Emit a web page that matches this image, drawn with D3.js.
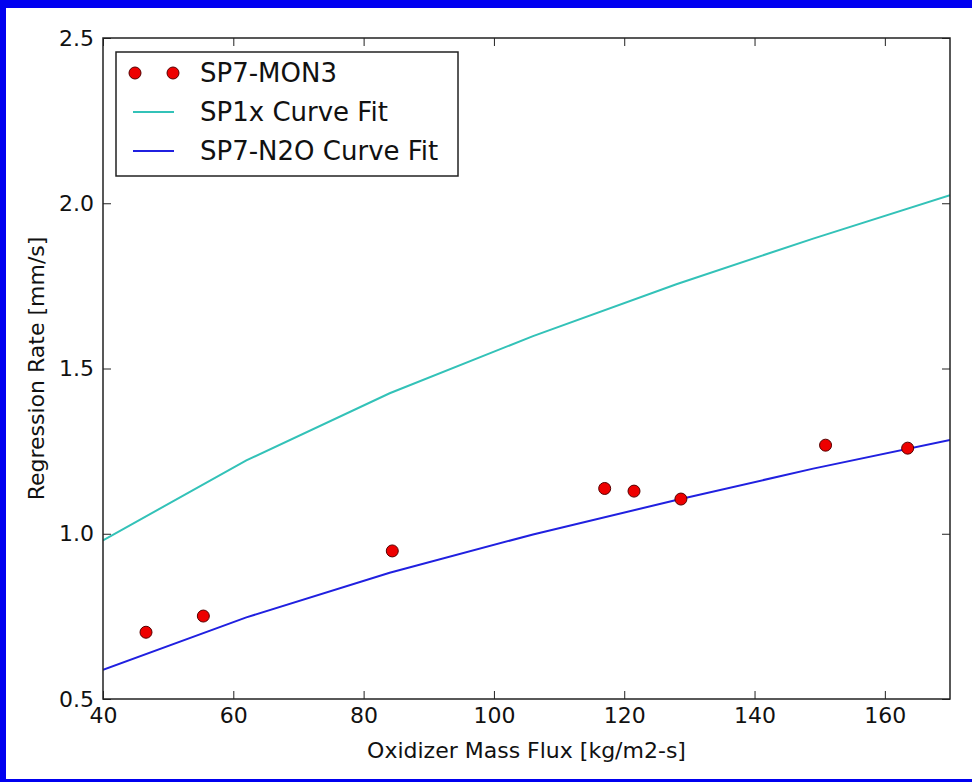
<!DOCTYPE html>
<html>
<head>
<meta charset="utf-8">
<script src="https://cdn.jsdelivr.net/npm/d3@7"></script>
<style>
  body { margin: 0; background: #fff; }
  svg { display: block; }
  text { font-family: "DejaVu Sans", sans-serif; fill: #111; }
</style>
</head>
<body>
<svg id="chart"></svg>
<script>
// measured points, SP7-MON3
const fluxMON3 = [46.6, 55.4, 84.4, 117.0, 121.5, 128.7, 150.9, 163.5]
const rateMON3 = [0.702, 0.751, 0.948, 1.137, 1.129, 1.105, 1.268, 1.259]

// curve fits at the kinks
const fitFlux = [40, 62, 84, 106, 128, 149, 170]
const rateSP1x = [0.980, 1.222, 1.425, 1.598, 1.755, 1.893, 2.024]
const rateSP7N2O = [0.588, 0.747, 0.882, 0.998, 1.102, 1.197, 1.284]

const xTicks = [40, 60, 80, 100, 120, 140, 160]
const yTicks = [0.5, 1.0, 1.5, 2.0, 2.5]

const width = 972, height = 782
const m = { left: 103, right: 950, top: 38, bottom: 699 }

const svg = d3.select('#chart')
  .attr('width', width)
  .attr('height', height)

// blue frame around the picture (no right edge in the original)
svg.append('rect').attr('x', 0).attr('y', 0).attr('width', width).attr('height', 8).attr('fill', '#0000f0')
svg.append('rect').attr('x', 0).attr('y', 0).attr('width', 6).attr('height', height).attr('fill', '#0000f0')
svg.append('rect').attr('x', 0).attr('y', height - 3).attr('width', width).attr('height', 3).attr('fill', '#0000f0')

const x = d3.scaleLinear().domain([40, 170]).range([m.left, m.right])
const y = d3.scaleLinear().domain([0.5, 2.5]).range([m.bottom, m.top])

const tickLen = 8
const g = svg.append('g')

// inward ticks on all four sides
const axB = g.append('g').attr('transform', `translate(0,${m.bottom})`)
  .call(d3.axisBottom(x).tickValues(xTicks).tickSizeInner(-tickLen).tickSizeOuter(0).tickPadding(8).tickFormat(d3.format('d')))
const axT = g.append('g').attr('transform', `translate(0,${m.top})`)
  .call(d3.axisTop(x).tickValues(xTicks).tickSizeInner(-tickLen).tickSizeOuter(0).tickFormat(''))
const axL = g.append('g').attr('transform', `translate(${m.left},0)`)
  .call(d3.axisLeft(y).tickValues(yTicks).tickSizeInner(-tickLen).tickSizeOuter(0).tickPadding(9).tickFormat(d3.format('.1f')))
const axR = g.append('g').attr('transform', `translate(${m.right},0)`)
  .call(d3.axisRight(y).tickValues(yTicks).tickSizeInner(-tickLen).tickSizeOuter(0).tickFormat(''))

;[axB, axT, axL, axR].forEach(a => {
  a.select('.domain').remove()
  a.selectAll('.tick line').attr('stroke', '#222').attr('stroke-width', 1)
  a.selectAll('.tick text').attr('font-size', 22).attr('font-family', '"DejaVu Sans", sans-serif').attr('fill', '#111')
})

const line = d3.line().x(d => x(d[0])).y(d => y(d[1]))

svg.append('clipPath').attr('id', 'plotclip')
  .append('rect').attr('x', m.left).attr('y', m.top)
  .attr('width', m.right - m.left).attr('height', m.bottom - m.top)

const plot = svg.append('g').attr('clip-path', 'url(#plotclip)')

plot.append('path')
  .datum(fitFlux.map((f, i) => [f, rateSP1x[i]]))
  .attr('d', line).attr('fill', 'none')
  .attr('stroke', '#33c2b8').attr('stroke-width', 2)

plot.append('path')
  .datum(fitFlux.map((f, i) => [f, rateSP7N2O[i]]))
  .attr('d', line).attr('fill', 'none')
  .attr('stroke', '#2020e0').attr('stroke-width', 2)

svg.append('g')
  .selectAll('circle')
  .data(fluxMON3.map((f, i) => [f, rateMON3[i]]))
  .enter().append('circle')
  .attr('cx', d => x(d[0]))
  .attr('cy', d => y(d[1]))
  .attr('r', 6)
  .attr('fill', '#ee0000')
  .attr('stroke', '#550000')
  .attr('stroke-width', 1)

// frame
svg.append('rect')
  .attr('x', m.left).attr('y', m.top)
  .attr('width', m.right - m.left).attr('height', m.bottom - m.top)
  .attr('fill', 'none').attr('stroke', '#222').attr('stroke-width', 1.5)

// axis labels
svg.append('text')
  .attr('x', (m.left + m.right) / 2).attr('y', 758)
  .attr('text-anchor', 'middle').attr('font-size', 22)
  .text('Oxidizer Mass Flux [kg/m2-s]')

svg.append('text')
  .attr('transform', `translate(44,${(m.top + m.bottom) / 2}) rotate(-90)`)
  .attr('text-anchor', 'middle').attr('font-size', 22)
  .text('Regression Rate [mm/s]')

// legend
const leg = svg.append('g')
leg.append('rect')
  .attr('x', 116).attr('y', 52).attr('width', 342).attr('height', 124)
  .attr('fill', '#fff').attr('stroke', '#222').attr('stroke-width', 1.5)

const legendItems = [
  { label: 'SP7-MON3', type: 'dot', color: '#ee0000' },
  { label: 'SP1x Curve Fit', type: 'line', color: '#33c2b8' },
  { label: 'SP7-N2O Curve Fit', type: 'line', color: '#2020e0' }
]

legendItems.forEach((it, i) => {
  const cy = 73 + i * 39
  if (it.type === 'dot') {
    ;[135, 173].forEach(cx => leg.append('circle')
      .attr('cx', cx).attr('cy', cy).attr('r', 6)
      .attr('fill', it.color).attr('stroke', '#550000').attr('stroke-width', 1))
  } else {
    leg.append('line')
      .attr('x1', 133).attr('x2', 174).attr('y1', cy).attr('y2', cy)
      .attr('stroke', it.color).attr('stroke-width', 2)
  }
  leg.append('text')
    .attr('x', 200).attr('y', cy + 9)
    .attr('font-size', 26)
    .text(it.label)
})
</script>
</body>
</html>
